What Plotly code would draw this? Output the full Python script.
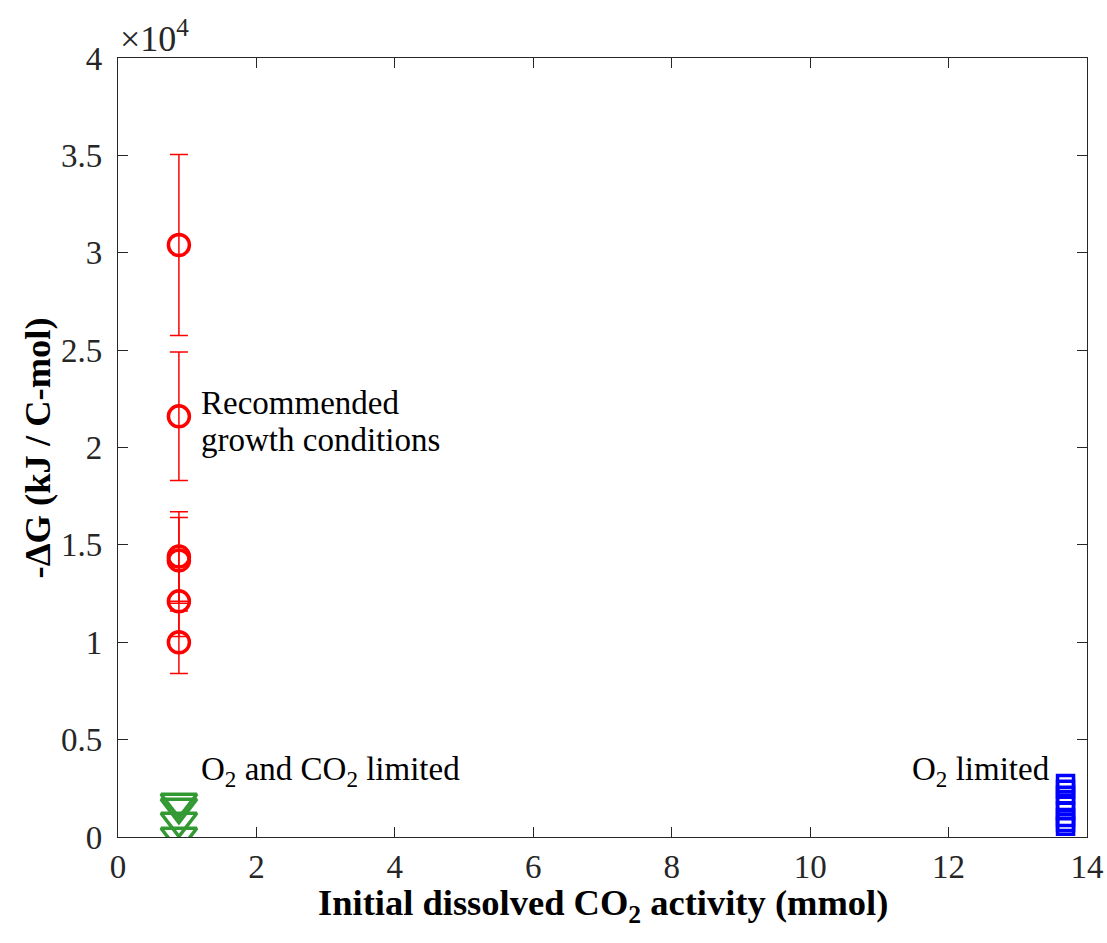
import plotly.graph_objects as go

# Measured free-energy values (kJ / C-mol) vs. initial dissolved CO2 activity (mmol)
rec_x = [0.88, 0.88, 0.88, 0.88, 0.88, 0.88]
rec_y = [30400, 21600, 14400, 14200, 12100, 10000]
rec_err = [4650, 3300, 2300, 2200, 1800, 1600]

co2_lim_x = [0.88, 0.88, 0.88, 0.88]
co2_lim_y = [1800, 1540, 820, 50]

o2_lim_x = [13.69, 13.69, 13.69, 13.69, 13.69, 13.69, 13.69, 13.69]
o2_lim_y = [2750, 2450, 2150, 1750, 1350, 1000, 750, 550]

y_tick_vals = [0, 5000, 10000, 15000, 20000, 25000, 30000, 35000, 40000]
y_tick_text = ["0", "0.5", "1", "1.5", "2", "2.5", "3", "3.5", "4"]
x_tick_vals = [0, 2, 4, 6, 8, 10, 12, 14]

FONT = "Liberation Serif, Times New Roman, serif"
AX = "#262626"
TXT = 33
LBL = 36.5

fig = go.Figure()

fig.add_trace(go.Scatter(
    x=rec_x, y=rec_y, mode="markers",
    marker=dict(symbol="circle-open", size=21, color="#ff0000", line=dict(width=3.5, color="#ff0000")),
    error_y=dict(type="data", array=rec_err, visible=True, color="#ff0000", thickness=1.5, width=9),
    showlegend=False,
))

fig.add_trace(go.Scatter(
    x=co2_lim_x, y=co2_lim_y, mode="markers",
    marker=dict(symbol="triangle-down-open", size=31, color="#339933", line=dict(width=3.5, color="#339933")),
    showlegend=False,
))

fig.add_trace(go.Scatter(
    x=o2_lim_x, y=o2_lim_y, mode="markers",
    marker=dict(symbol="square-open", size=16, color="#0000ff", line=dict(width=3.5, color="#0000ff")),
    showlegend=False,
))

# Text labels for the three condition groups
for txt, yy in [("Recommended", 22300), ("growth conditions", 20400)]:
    fig.add_annotation(x=1.17, y=yy, xref="x", yref="y", xanchor="left", yanchor="middle",
                       text=txt, showarrow=False, align="left",
                       font=dict(family=FONT, size=TXT, color="black"))
fig.add_annotation(x=1.17, y=3350, xref="x", yref="y", xanchor="left", yanchor="middle",
                   text="O<sub>2</sub> and CO<sub>2</sub> limited", showarrow=False, align="left",
                   font=dict(family=FONT, size=TXT, color="black"))
fig.add_annotation(x=13.5, y=3350, xref="x", yref="y", xanchor="right", yanchor="middle",
                   text="O<sub>2</sub> limited", showarrow=False, align="right",
                   font=dict(family=FONT, size=TXT, color="black"))

# Exponent label for the y axis
fig.add_annotation(x=0.0, y=1.0, xref="paper", yref="paper", xanchor="left", yanchor="bottom",
                   xshift=0, yshift=-3,
                   text="\u00d710<sup>4</sup>", showarrow=False,
                   font=dict(family=FONT, size=36, color=AX))

# Axis titles
fig.add_annotation(x=0.5, y=-0.088, xref="paper", yref="paper", xanchor="center", yanchor="middle",
                   text="<b>Initial dissolved CO<sub>2</sub> activity (mmol)</b>", showarrow=False,
                   font=dict(family=FONT, size=LBL, color="black"))
fig.add_annotation(x=-0.0826, y=0.5, xref="paper", yref="paper", xanchor="center", yanchor="middle",
                   text="<b>-\u0394G (kJ / C-mol)</b>", showarrow=False, textangle=-90,
                   font=dict(family=FONT, size=LBL, color="black"))

axis_common = dict(
    showline=True, linecolor=AX, linewidth=1.2, mirror="allticks",
    ticks="inside", ticklen=10, tickwidth=1.2, tickcolor=AX,
    showgrid=False, zeroline=False,
    tickfont=dict(family=FONT, size=TXT, color=AX),
)

fig.update_xaxes(range=[0, 14], tickvals=x_tick_vals, ticklabelstandoff=0, **axis_common)
fig.update_yaxes(range=[0, 40000], tickvals=y_tick_vals, ticktext=y_tick_text,
                 ticklabelstandoff=8, **axis_common)

fig.update_layout(
    width=1107, height=943,
    margin=dict(l=118, r=20, t=58, b=106, autoexpand=False),
    paper_bgcolor="white", plot_bgcolor="white",
    font=dict(family=FONT),
)

fig.write_html("out.html")
